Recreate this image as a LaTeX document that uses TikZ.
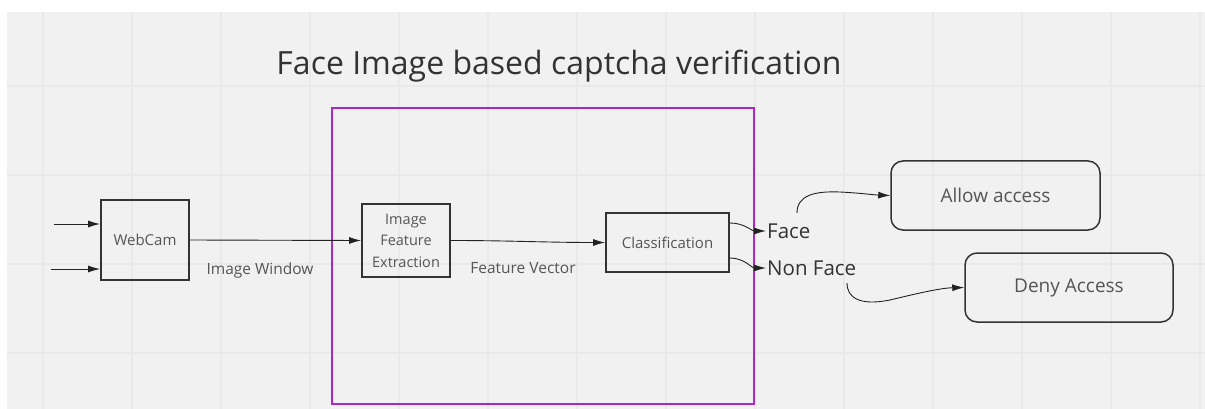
\documentclass[tikz,border=0pt]{standalone}
\usepackage{fontspec}
\setmainfont{Open Sans}
\usetikzlibrary{arrows.meta,calc}
\definecolor{canvas}{HTML}{F1F1F1}
\definecolor{gridline}{HTML}{E9E9E9}
\definecolor{frame}{RGB}{172,40,198}
\definecolor{ink}{HTML}{333333}
\definecolor{soft}{HTML}{555555}
\definecolor{wire}{HTML}{222222}
\tikzset{
  block/.style={draw=ink, line width=1.8pt, rectangle, inner sep=0pt, text=soft, font=\fontsize{15}{18}\selectfont, align=center},
  outcome/.style={block, rounded corners=12pt, line width=1.5pt, font=\fontsize{19}{22}\selectfont},
  flow/.style={draw=wire, line width=0.9pt, -{Latex[length=12pt,width=7pt]}},
  caption/.style={text=soft, font=\fontsize{15.5}{18}\selectfont, inner sep=0pt},
  branch/.style={text=ink, font=\fontsize{20.5}{24}\selectfont, inner sep=1pt, anchor=west},
}
\begin{document}
\begin{tikzpicture}[x=1pt,y=-1pt]
  \useasboundingbox (0,0) rectangle (1205,409);
  % board and grid
  \fill[white] (0,0) rectangle (1205,409);
  \fill[canvas] (7,12) rectangle (1205,409);
  \foreach \gx in {0,...,13} \draw[gridline, line width=1.2pt] ({43+89*\gx},12) -- ({43+89*\gx},409);
  \foreach \gy in {0,...,3} \draw[gridline, line width=1.2pt] (7,{86+89*\gy}) -- (1205,{86+89*\gy});

  % title
  \node[text=ink, font=\fontsize{32}{37}\selectfont, inner sep=0pt] (title) at (559,66) {Face Image based captcha verification};

  % processing frame
  \draw[frame, line width=2pt] (332,108) rectangle (754,404);

  % blocks
  \node[block, minimum width=88pt, minimum height=80pt] (webcam) at (145,240) {WebCam};
  \node[block, minimum width=88pt, minimum height=73pt, font=\fontsize{14.5}{21.5}\selectfont] (ife) at (406,240.5) {Image\\Feature\\Extraction};
  \node[block, minimum width=123pt, minimum height=59pt] (cls) at (667.5,242.5) {Classification};
  \node[outcome, minimum width=209pt, minimum height=69pt] (allow) at (995.5,195.5) {Allow access};
  \node[outcome, minimum width=208pt, minimum height=69pt] (deny) at (1069,287.5) {Deny Access};

  % inputs to the camera
  \coordinate (in1) at (54,224);
  \coordinate (in2) at (51,269);
  \draw[flow] (in1) -- (in1 -| webcam.west);
  \draw[flow] (in2) -- (in2 -| webcam.west);

  % main pipeline
  \draw[flow] (webcam.east) -- (ife.west);
  \node[caption] (iw) at (260,270) {Image Window};
  \draw[flow] (ife.east) to[out=0,in=180] (cls.west);
  \node[caption] (fv) at (523,268) {Feature Vector};

  % classifier outputs
  \node[branch] (face) at (766,231) {Face};
  \node[branch] (nonface) at (766,268) {Non Face};
  \draw[flow] ([yshift=19.5pt]cls.east) to[out=0,in=180] (face.west);
  \draw[flow] ([yshift=-15.5pt]cls.east) to[out=0,in=180] (nonface.west);

  % decisions
  \coordinate (fs) at (797,213);
  \coordinate (ns) at (847,283);
  \draw[flow] (fs) .. controls (797,195) and (815,191) .. (840,192) .. controls (860,193) and (875,195) .. (allow.west);
  \draw[flow] (ns) .. controls (847,298) and (860,306) .. (890,300) .. controls (915,294) and (940,288) .. (deny.west);
\end{tikzpicture}
\end{document}
